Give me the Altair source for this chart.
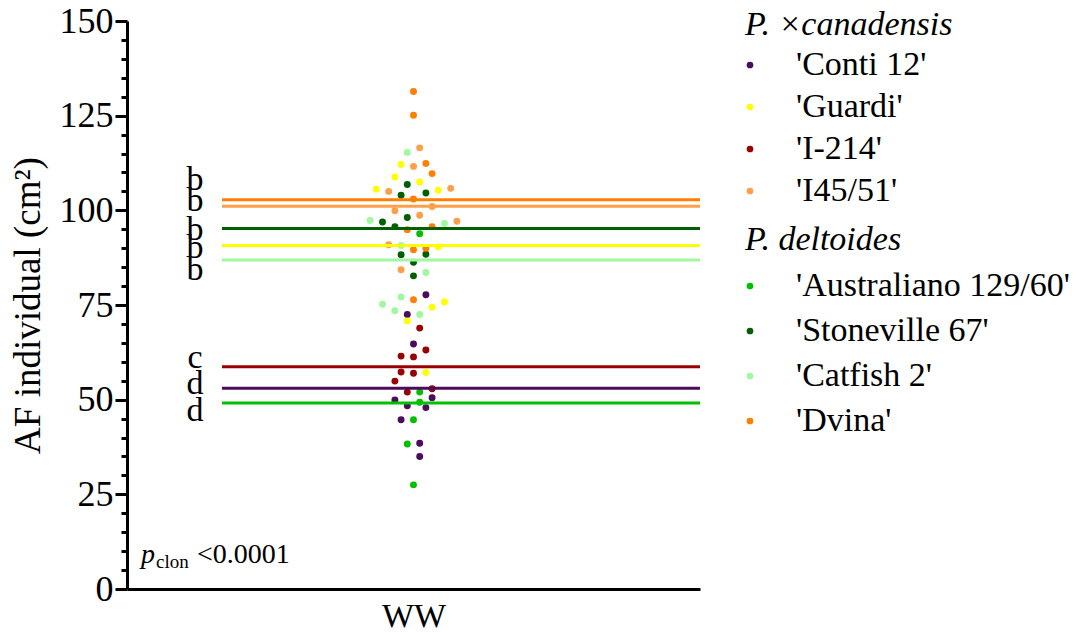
import altair as alt
import pandas as pd

FONT = "Liberation Serif"

clones = ["'Conti 12'", "'Guardi'", "'I-214'", "'I45/51'",
          "'Australiano 129/60'", "'Stoneville 67'", "'Catfish 2'", "'Dvina'"]
species = ["can", "can", "can", "can", "del", "del", "del", "del"]
colors = ["#4b0c5c", "#ffff00", "#990000", "#ff9f4a",
          "#00c000", "#006000", "#a0f8a0", "#ff7f00"]

# individual values (cm2) and swarm column
conti_af = [77.7, 72.5, 64.7, 50.5, 49.9, 48.4, 47.9, 44.7, 38.5, 35.0]
conti_col = [2, -1, 0, 3, -3, -1, 2, -2, 1, 1]
guardi_af = [112.1, 108.8, 107.5, 105.6, 105.3, 90.3, 75.8, 74.4, 70.8, 57.2]
guardi_col = [-2, -3, 1, -6, 4, 4, 5, 3, -1, 2]
i214_af = [68.9, 63.1, 61.5, 61.3, 57.3, 57.0, 54.9, 52.9, 52.0]
i214_col = [1, 2, -2, 0, -2, 0, -3, 3, -1]
i4551_af = [116.5, 111.6, 105.0, 105.8, 101.0, 99.9, 98.7, 97.1, 90.9, 84.3]
i4551_col = [1, 0, -4, 6, 3, -3, 1, 7, -4, -2]
austr_af = [93.8, 52.0, 49.3, 44.7, 38.3, 27.5]
austr_col = [1, 1, 1, 0, -1, 0]
stone_af = [106.8, 104.0, 104.6, 98.1, 96.9, 95.7, 88.3, 88.4, 86.3, 82.7]
stone_col = [-1, -2, 2, -1, -5, -3, -2, 2, 0, 0]
catfish_af = [115.3, 97.3, 96.5, 90.7, 83.6, 77.1, 75.2, 73.5, 72.5]
catfish_col = [-1, -7, 5, -2, 2, -2, -5, -3, 1]
dvina_af = [131.4, 125.1, 112.4, 109.7, 103.0, 95.7, 94.9, 89.6, 90.0, 76.4]
dvina_col = [0, 0, 2, 3, 0, 3, -1, 0, 2, 0]

means = [53.0, 90.7, 58.7, 101.1, 49.1, 95.2, 86.9, 102.8]

letters = ["b", "b", "b", "b", "b", "c", "d", "d"]
letter_y = [105.4, 99.9, 92.2, 87.5, 81.7, 58.4, 51.5, 44.4]

minor_ticks = list(range(0, 151, 5))

af_lists = [conti_af, guardi_af, i214_af, i4551_af, austr_af, stone_af, catfish_af, dvina_af]
col_lists = [conti_col, guardi_col, i214_col, i4551_col, austr_col, stone_col, catfish_col, dvina_col]

rows = []
for clone, sp, afs, cols in zip(clones, species, af_lists, col_lists):
    for a, c in zip(afs, cols):
        rows.append({"clone": clone, "species": sp, "af": a, "col": c})
df = pd.DataFrame(rows)
df_means = pd.DataFrame({"clone": clones, "af": means})
df_letters = pd.DataFrame({"letter": letters, "af": letter_y})

W, H = 573, 568

x_scale = alt.Scale(domain=[-46.2, 46.2], nice=False, zero=False)
y_scale = alt.Scale(domain=[0, 150], nice=False)

x_axis = alt.Axis(values=[0], labelExpr="'WW'", title=None, ticks=False, grid=False,
                  domainWidth=3, domainColor="black", labelFontSize=34, labelFont=FONT,
                  labelPadding=10, labelColor="black")
y_axis = alt.Axis(values=minor_ticks,
                  labelExpr="datum.value % 25 === 0 ? datum.label : ''",
                  labelOverlap=False, labelBound=False,
                  tickSize={"condition": {"test": "datum.value % 25 === 0", "value": 12}, "value": 6},
                  tickWidth=3, tickColor="black", domainWidth=3, domainColor="black",
                  grid=False, labelFontSize=36, labelFont=FONT, labelColor="black",
                  labelPadding=2, title="AF individual (cm²)", titleFont=FONT,
                  titleFontSize=37, titleFontWeight="normal", titleColor="black",
                  titlePadding=12)

def Y():
    return alt.Y("af:Q", scale=y_scale, axis=y_axis)

def legend(title, ly, rowpad, titlepad):
    return alt.Legend(title=title, orient="none", legendX=618, legendY=ly,
                      titleFont=FONT, titleFontStyle="italic", titleFontWeight="normal",
                      titleFontSize=34, titleColor="black", titlePadding=titlepad,
                      titleLimit=600,
                      labelFont=FONT, labelFontSize=34, labelColor="black",
                      labelLimit=600, labelOffset=29, symbolType="circle",
                      symbolOffset=-12,
                      symbolSize=45, symbolStrokeWidth=0, rowPadding=rowpad)

can = df[df.species == "can"]
dele = df[df.species == "del"]

pts_can = alt.Chart(can).mark_circle(size=48, opacity=1).encode(
    x=alt.X("col:Q", scale=x_scale, axis=x_axis),
    y=Y(),
    color=alt.Color("clone:N", scale=alt.Scale(domain=clones[:4], range=colors[:4]),
                    legend=legend("P. ×canadensis", -13, 8, 6)),
)
pts_del = alt.Chart(dele).mark_circle(size=48, opacity=1).encode(
    x=alt.X("col:Q", scale=x_scale, axis=x_axis),
    y=Y(),
    color=alt.Color("clone:N", scale=alt.Scale(domain=clones[4:], range=colors[4:]),
                    legend=legend("P. deltoides", 202, 11, 12)),
)
lines = alt.Chart(df_means).mark_rule(strokeWidth=3).encode(
    y=Y(),
    x=alt.value(95), x2=alt.value(W),
    color=alt.Color("clone:N", scale=alt.Scale(domain=clones, range=colors), legend=None),
)
letters_l = alt.Chart(df_letters).mark_text(font=FONT, fontSize=34, baseline="alphabetic",
                                            align="center", color="black").encode(
    y=Y(), x=alt.value(68), text="letter:N")

p1 = alt.Chart(pd.DataFrame({"t": ["p"]})).mark_text(
    font=FONT, fontSize=28, fontStyle="italic", align="left", baseline="alphabetic",
    color="black").encode(text="t:N", x=alt.value(14), y=alt.value(542))
p2 = alt.Chart(pd.DataFrame({"t": ["clon"]})).mark_text(
    font=FONT, fontSize=19, align="left", baseline="alphabetic",
    color="black").encode(text="t:N", x=alt.value(29), y=alt.value(547))
p3 = alt.Chart(pd.DataFrame({"t": ["<0.0001"]})).mark_text(
    font=FONT, fontSize=28, align="left", baseline="alphabetic",
    color="black").encode(text="t:N", x=alt.value(70), y=alt.value(542))

chart = alt.layer(pts_can, pts_del, lines, letters_l, p1, p2, p3).resolve_scale(
    color="independent"
).properties(
    width=W, height=H,
    background="white",
    autosize=alt.AutoSizeParams(type="none"),
    padding={"left": 127, "top": 21, "right": 381, "bottom": 45},
).configure_view(stroke="transparent", strokeOpacity=0)

chart.save("out.html", embed_options={"renderer": "svg", "actions": False})
